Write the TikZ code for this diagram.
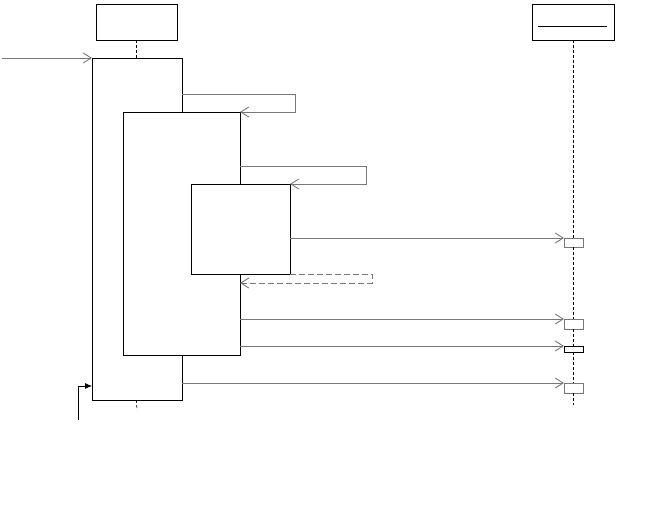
\documentclass[tikz,border=0pt]{standalone}
\usepackage{tikz}
\usetikzlibrary{arrows.meta,positioning,calc}
\definecolor{msggray}{RGB}{120,120,120}

\tikzset{
  objbox/.style={draw=black,fill=white,line width=0.8pt,inner sep=0pt,outer sep=0pt,minimum width=81pt,minimum height=36pt,anchor=north west},
  actbox/.style={draw=black,fill=white,line width=0.8pt,inner sep=0pt,outer sep=0pt,anchor=north west},
  recvbox/.style={draw=msggray,fill=white,line width=0.8pt,inner sep=0pt,outer sep=0pt,minimum width=19pt,anchor=north west},
  lifeline/.style={draw=black,line width=0.7pt,dash pattern=on 3pt off 2pt},
  msg/.style={draw=msggray,line width=0.9pt,-{Straight Barb[length=8pt,width=10pt]}},
  retmsg/.style={msg,dash pattern=on 6pt off 3pt},
  found/.style={draw=black,line width=0.8pt,-{Latex[length=7pt,width=6pt]}}
}

\begin{document}
\begin{tikzpicture}[x=1pt,y=-1pt]
  \useasboundingbox (0,0) rectangle (657,519);

  % lifeline heads
  \node[objbox] (objA) at (96,4) {};
  \node[objbox,minimum width=82pt] (objB) at (532,4) {};
  \draw[line width=0.8pt] (538,26) -- (607,26);

  % activations
  \node[actbox,minimum width=90pt,minimum height=342pt] (actA) at (92,58) {};
  \node[actbox,minimum width=117pt,minimum height=243pt] (actB) at (123,112) {};
  \node[actbox,minimum width=99pt,minimum height=90pt] (actC) at (191,184) {};

  \node[recvbox,minimum height=9pt] (recvA) at (564,238) {};
  \node[recvbox,minimum height=10pt] (recvB) at (564,319) {};
  \node[recvbox,draw=black,minimum height=6pt] (recvC) at (564,346) {};
  \node[recvbox,minimum height=10pt] (recvD) at (564,383) {};

  \coordinate (endA) at (137,410);
  \coordinate (endB) at (573,405);
  \coordinate (start) at (2,58);
  \coordinate (foundStart) at (78,420);

  % lifelines
  \draw[lifeline] (objA.south) -- (actA.north -| objA.south);
  \draw[lifeline] (actA.south -| objA.south) -- (endA);
  \draw[lifeline] (objB.south) -- (recvA.north -| objB.south);
  \draw[lifeline] (recvA.south -| objB.south) -- (recvB.north -| objB.south);
  \draw[lifeline] (recvB.south -| objB.south) -- (recvC.north -| objB.south);
  \draw[lifeline] (recvC.south -| objB.south) -- (recvD.north -| objB.south);
  \draw[lifeline] (recvD.south -| objB.south) -- (endB);

  % messages
  \draw[msg] (start) -- (actA.north west);
  \draw[msg] (actA.east |- 0,94) -- (295,94) |- (actB.north east);
  \draw[msg] (actB.east |- 0,166) -- (366,166) |- (actC.north east);
  \draw[msg] (actC.east |- recvA.north) -- (recvA.north west);
  \draw[retmsg] (actC.south east) -- (372,274) |- (actB.east |- 0,283);
  \draw[msg] (actB.east |- recvB.north) -- (recvB.north west);
  \draw[msg] (actB.east |- recvC.north) -- (recvC.north west);
  \draw[msg] (actA.east |- recvD.north) -- (recvD.north west);
  \draw[found] (foundStart) |- (actA.west |- 0,386);
\end{tikzpicture}
\end{document}
